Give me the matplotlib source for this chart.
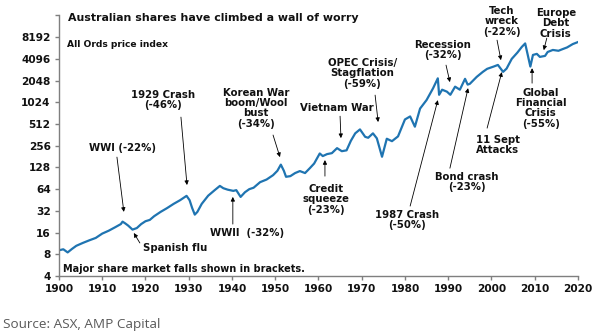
import matplotlib
matplotlib.use("Agg")
import matplotlib.pyplot as plt
from matplotlib.ticker import FixedLocator, FixedFormatter

# -----------------------------
# All Ords price index (log scale)
# -----------------------------
years = [1900.0, 1901.0, 1902.0, 1903.0, 1904.0, 1905.5, 1907.0, 1908.5, 1910.0, 1911.5,
         1913.0, 1914.3, 1914.7, 1915.3, 1916.0, 1917.0, 1918.0, 1919.0, 1920.0, 1921.0,
         1922.0, 1923.5, 1925.0, 1926.5, 1928.0, 1929.5, 1930.2, 1930.8, 1931.4, 1932.0,
         1933.0, 1934.5, 1936.0, 1937.2, 1938.0, 1939.0, 1940.3, 1941.0, 1942.0, 1943.0,
         1944.0, 1945.0, 1946.5, 1948.0, 1949.5, 1950.5, 1951.3, 1952.0, 1952.5, 1953.5,
         1954.6, 1955.7, 1956.9, 1958.0, 1959.0, 1960.3, 1961.0, 1962.0, 1963.1, 1964.3,
         1965.4, 1966.5, 1967.5, 1968.5, 1969.6, 1970.8, 1971.5, 1972.6, 1973.5, 1974.7,
         1975.8, 1977.0, 1978.4, 1980.0, 1981.2, 1982.3, 1983.5, 1985.0, 1986.5, 1987.6,
         1987.9, 1988.6, 1989.7, 1990.5, 1991.6, 1992.7, 1993.9, 1994.5, 1995.0, 1996.6,
         1998.0, 1999.0, 2000.5, 2001.5, 2002.7, 2003.5, 2004.7, 2006.0, 2007.0, 2007.8,
         2008.4, 2009.0, 2009.6, 2010.5, 2011.2, 2012.4, 2013.0, 2014.2, 2015.5, 2016.5,
         2017.5, 2018.8, 2020.0]
index = [9.1, 9.4, 8.5, 9.5, 10.5, 11.5, 12.5, 13.5, 15.5, 17,
         19, 21, 22.7, 21.5, 20, 17.6, 18.5, 21, 23, 24,
         27, 31, 35, 40, 45, 51.7, 45, 35, 28.4, 31,
         40, 52, 62, 71, 66, 63, 60.6, 62, 50, 58,
         64, 67, 80, 87, 100, 115, 140, 115, 95, 97,
         107, 114, 107, 125, 145, 200, 184, 196, 202, 237,
         215, 221, 300, 380, 431, 340, 330, 380, 324, 180,
         320, 296, 345, 592, 652, 470, 838, 1100, 1600, 2200,
         1300, 1530, 1438, 1300, 1686, 1530, 2165, 1800, 1845, 2305,
         2700, 2977, 3200, 3373, 2703, 3000, 4096, 5000, 5970, 6700,
         4640, 3200, 4640, 4800, 4360, 4500, 5100, 5440, 5300, 5600,
         5900, 6560, 7000]

y_ticks = [4, 8, 16, 32, 64, 128, 256, 512, 1024, 2048, 4096, 8192, 16384]
y_tick_labels = ["4", "8", "16", "32", "64", "128", "256", "512", "1024", "2048", "4096", "8192", ""]
x_ticks = list(range(1900, 2021, 10))

# (label, text position, arrow start, arrow tip) in (year, index)
events = [
    ("WWI (-22%)", (1914.6, 237), (1913.4, 178), (1915.0, 31)),
    ("1929 Crash\n(-46%)", (1924.0, 1097), (1928.2, 638), (1929.6, 73)),
    ("Korean War\nboom/Wool\nbust\n(-34%)", (1945.5, 849), (1949.5, 360), (1951.1, 178)),
    ("WWII  (-32%)", (1943.5, 15.8), (1940.2, 21), (1940.2, 50)),
    ("Vietnam War", (1964.3, 849), (1965.0, 657), (1965.2, 326)),
    ("OPEC Crisis/\nStagflation\n(-59%)", (1970.1, 2593), (1973.1, 1287), (1973.8, 545)),
    ("Credit\nsqueeze\n(-23%)", (1961.7, 46.6), (1961.5, 97), (1961.5, 162)),
    ("Recession\n(-32%)", (1988.8, 5404), (1989.5, 3352), (1990.4, 1950)),
    ("1987 Crash\n(-50%)", (1980.5, 23.9), (1981.2, 37.3), (1987.6, 1097)),
    ("Bond crash\n(-23%)", (1994.3, 80.4), (1990.4, 125), (1994.6, 1608)),
    ("11 Sept\nAttacks", (2001.5, 261), (1999.0, 449), (2002.4, 2683)),
    ("Tech\nwreck\n(-22%)", (2002.4, 13600), (2001.3, 7437), (2002.2, 3928)),
    ("Europe\nDebt\nCrisis", (2014.9, 12780), (2012.8, 7920), (2012.1, 5404)),
    ("Global\nFinancial\nCrisis\n(-55%)", (2011.4, 849), (2009.4, 1885), (2009.4, 3040)),
]

plt.rcParams['font.family'] = ['DejaVu Sans']

fig = plt.figure(figsize=(6.02, 3.35), dpi=100)
ax = fig.add_axes([0.098, 0.176, 0.862, 0.778])

ax.plot(years, index, color='#1f74b1', lw=1.6, solid_joinstyle='round')

ax.set_yscale('log', base=2)
ax.set_ylim(4, 16384)
ax.set_xlim(1900, 2020)
ax.yaxis.set_major_locator(FixedLocator(y_ticks))
ax.yaxis.set_major_formatter(FixedFormatter(y_tick_labels))
ax.yaxis.set_minor_locator(FixedLocator([]))
ax.set_xticks(x_ticks)

for s in ['top', 'right']:
    ax.spines[s].set_visible(False)
for s in ['left', 'bottom']:
    ax.spines[s].set_color('#7f7f7f')
    ax.spines[s].set_linewidth(1.0)
ax.tick_params(axis='both', colors='#7f7f7f', length=3, width=1.0, labelcolor='#111111',
               labelsize=7.6, pad=3)
for lbl in ax.get_xticklabels() + ax.get_yticklabels():
    lbl.set_fontweight('bold')

ax.text(0.017, 0.99, "Australian shares have climbed a wall of worry", transform=ax.transAxes,
        fontsize=7.9, fontweight='bold', ha='left', va='center', color='#111111')
ax.text(0.015, 0.89, "All Ords price index", transform=ax.transAxes,
        fontsize=6.6, fontweight='bold', ha='left', va='center', color='#111111')
ax.text(0.008, 0.027, "Major share market falls shown in brackets.", transform=ax.transAxes,
        fontsize=7.0, fontweight='bold', ha='left', va='center', color='#111111')

arrow = dict(arrowstyle='-|>', color='black', lw=0.6, mutation_scale=6,
             shrinkA=0, shrinkB=0)
for label, txt, start, tip in events:
    ax.text(txt[0], txt[1], label, fontsize=7.3, fontweight='bold', ha='center',
            va='center', linespacing=1.05, color='#111111')
    ax.annotate('', xy=tip, xytext=start, arrowprops=arrow)

# Spanish flu label sits left-aligned
ax.text(1919.4, 9.8, "Spanish flu", fontsize=7.3, fontweight='bold', ha='left',
        va='center', color='#111111')
ax.annotate('', xy=(1917.3, 15.8), xytext=(1918.7, 11.5), arrowprops=arrow)

fig.text(0.005, 0.03, "Source: ASX, AMP Capital", fontsize=9.7, color='#595959',
         family=['Open Sans', 'DejaVu Sans'], ha='left', va='center')

plt.savefig("out.png", dpi=100)
